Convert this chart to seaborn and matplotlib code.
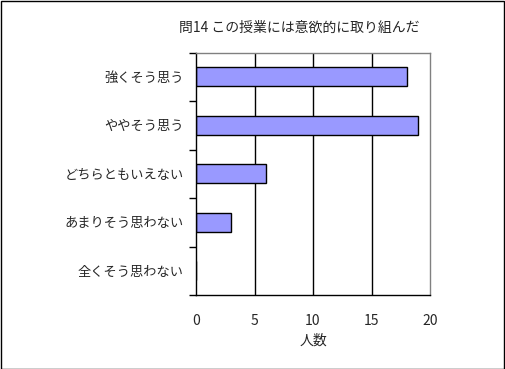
import matplotlib
matplotlib.use("Agg")
import matplotlib.pyplot as plt
import seaborn as sns
import pandas as pd
from matplotlib.patches import Rectangle

categories = ["強くそう思う", "ややそう思う", "どちらともいえない", "あまりそう思わない", "全くそう思わない"]
counts = [18, 19, 6, 3, 0]
xticks = [0, 5, 10, 15, 20]

df = pd.DataFrame({"category": categories, "count": counts})

sns.set_style("white")
plt.rcParams['font.family'] = ['Noto Sans CJK JP', 'DejaVu Sans']

fig = plt.figure(figsize=(5.05, 3.69), dpi=100)
ax = fig.add_axes([196/505, 1-295/369, 234/505, (295-52.5)/369])

sns.barplot(data=df, x="count", y="category", color="#9999FF", edgecolor="black",
            linewidth=1, width=0.4, saturation=1, ax=ax)

ax.set_xlim(0, 20)
ax.set_ylim(4.5, -0.5)
ax.set_xticks(xticks)
ax.set_xticklabels([str(t) for t in xticks], fontsize=10)
ax.tick_params(axis='x', length=0, pad=14)
ax.set_yticks(range(len(categories)), minor=False)
ax.set_yticks([i - 0.5 for i in range(len(categories) + 1)], minor=True)
ax.tick_params(axis='y', which='major', left=True, length=0, pad=9, labelsize=9.5)
ax.tick_params(axis='y', which='minor', left=True, length=5, width=1, color='black', direction='out')
ax.set_xlabel("人数", fontsize=10, labelpad=4)
ax.set_ylabel("")

for x in xticks[1:-1]:
    ax.axvline(x, color="black", linewidth=1, zorder=0)

ax.spines['left'].set_color('black')
ax.spines['bottom'].set_color('black')
ax.spines['right'].set_color('#808080')
ax.spines['top'].set_color('#808080')
for s in ax.spines.values():
    s.set_linewidth(1)

fig.text(299/505, 1-28/369, "問14 この授業には意欲的に取り組んだ", ha='center', va='center', fontsize=10)

fig.patches.append(Rectangle((0.001, 0.001), 0.997, 0.996, transform=fig.transFigure,
                             fill=False, edgecolor='black', linewidth=1))

fig.savefig("out.png", dpi=100)
